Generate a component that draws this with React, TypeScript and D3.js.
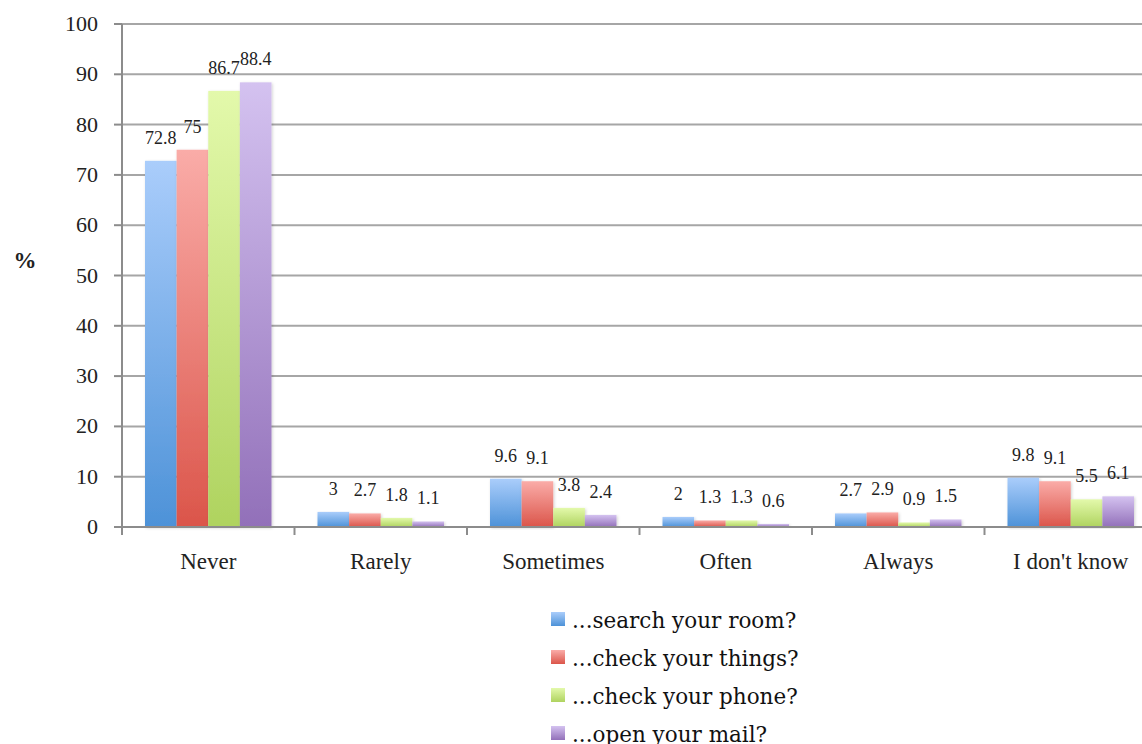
import { useEffect, useRef } from 'react';
import * as d3 from 'd3';

const categories = ['Never', 'Rarely', 'Sometimes', 'Often', 'Always', "I don't know"];
const seriesNames = ['...search your room?', '...check your things?', '...check your phone?', '...open your mail?'];
const searchRoom = [72.8, 3, 9.6, 2, 2.7, 9.8];
const checkThings = [75, 2.7, 9.1, 1.3, 2.9, 9.1];
const checkPhone = [86.7, 1.8, 3.8, 1.3, 0.9, 5.5];
const openMail = [88.4, 1.1, 2.4, 0.6, 1.5, 6.1];
const yTicks = [0, 10, 20, 30, 40, 50, 60, 70, 80, 90, 100];

const seriesValues = [searchRoom, checkThings, checkPhone, openMail];
const gradTop = ['#aacdfb', '#faaca8', '#e3f9ab', '#d4c2f0'];
const gradBottom = ['#4d92d8', '#db554a', '#afd35f', '#9270b9'];
const serif = 'Liberation Serif, Times New Roman, Tinos, serif';

export default function App() {
  const ref = useRef<SVGSVGElement>(null);

  useEffect(() => {
    const svg = d3.select(ref.current);
    svg.selectAll('*').remove();

    const W = 1142;
    const left = 122, top = 24, bottom = 527;
    const band = 172.5;
    const right = left + band * categories.length;

    const x0 = d3.scaleBand().domain(categories).range([left, right]).paddingInner(0).paddingOuter(0);
    const x1 = d3.scaleBand().domain(seriesNames).range([23, band - 23]).padding(0);
    const y = d3.scaleLinear().domain([0, 100]).range([bottom, top]);

    const defs = svg.append('defs');
    seriesNames.forEach((_, i) => {
      const lg = defs.append('linearGradient').attr('id', `g${i}`).attr('x1', 0).attr('y1', 0).attr('x2', 0).attr('y2', 1);
      lg.append('stop').attr('offset', '0%').attr('stop-color', gradTop[i]);
      lg.append('stop').attr('offset', '100%').attr('stop-color', gradBottom[i]);
    });
    const f = defs.append('filter').attr('id', 'sh').attr('x', '-20%').attr('y', '-5%').attr('width', '140%').attr('height', '110%');
    f.append('feDropShadow').attr('dx', 1).attr('dy', 1).attr('stdDeviation', 1.5).attr('flood-color', '#000').attr('flood-opacity', 0.18);

    // gridlines
    svg.append('g').selectAll('line').data(yTicks.filter(t => t > 0)).enter().append('line')
      .attr('x1', left).attr('x2', W).attr('y1', d => y(d)).attr('y2', d => y(d))
      .attr('stroke', '#a6a6a6').attr('stroke-width', 2);

    // bars + value labels
    const groups = svg.append('g').selectAll('g').data(categories).enter().append('g')
      .attr('transform', d => `translate(${x0(d)},0)`);
    seriesNames.forEach((s, si) => {
      groups.append('rect')
        .attr('x', x1(s)!).attr('width', x1.bandwidth())
        .attr('y', (_, ci) => y(seriesValues[si][ci]))
        .attr('height', (_, ci) => bottom - y(seriesValues[si][ci]))
        .attr('fill', `url(#g${si})`).attr('filter', 'url(#sh)');
      groups.append('text')
        .attr('x', x1(s)! + x1.bandwidth() / 2)
        .attr('y', (_, ci) => y(seriesValues[si][ci]) - 17)
        .attr('text-anchor', 'middle')
        .style('font-family', serif).attr('font-size', 18).attr('fill', '#222')
        .text((_, ci) => String(seriesValues[si][ci]));
    });

    // y axis
    svg.append('line').attr('x1', left).attr('x2', left).attr('y1', top).attr('y2', bottom)
      .attr('stroke', '#8c8c8c').attr('stroke-width', 2);
    const ya = svg.append('g');
    ya.selectAll('line').data(yTicks).enter().append('line')
      .attr('x1', left - 8).attr('x2', left).attr('y1', d => y(d)).attr('y2', d => y(d))
      .attr('stroke', '#8c8c8c').attr('stroke-width', 2);
    ya.selectAll('text').data(yTicks).enter().append('text')
      .attr('x', 98).attr('y', d => y(d) + 7).attr('text-anchor', 'end')
      .style('font-family', serif).attr('font-size', 22).attr('fill', '#222')
      .text(d => String(d));

    // x axis
    svg.append('line').attr('x1', left).attr('x2', W).attr('y1', bottom).attr('y2', bottom)
      .attr('stroke', '#8c8c8c').attr('stroke-width', 2);
    const xa = svg.append('g');
    xa.selectAll('line').data(d3.range(categories.length + 1)).enter().append('line')
      .attr('x1', i => left + i * band).attr('x2', i => left + i * band)
      .attr('y1', bottom).attr('y2', bottom + 8)
      .attr('stroke', '#8c8c8c').attr('stroke-width', 2);
    xa.selectAll('text').data(categories).enter().append('text')
      .attr('x', d => x0(d)! + band / 2).attr('y', 569).attr('text-anchor', 'middle')
      .style('font-family', serif).attr('font-size', 23).attr('fill', '#222')
      .text(d => d);

    svg.append('text').attr('x', 25).attr('y', 268).attr('text-anchor', 'middle')
      .style('font-family', serif).attr('font-size', 23).attr('font-weight', 'bold')
      .attr('fill', '#222').text('%');

    // legend
    const lg = svg.append('g').selectAll('g').data(seriesNames).enter().append('g')
      .attr('transform', (_, i) => `translate(551,${612 + i * 38})`);
    lg.append('rect').attr('width', 14).attr('height', 14).attr('fill', (_, i) => `url(#g${i})`);
    lg.append('text').attr('x', 21).attr('y', 16)
      .style('font-family', 'DejaVu Serif, serif').attr('font-size', 21.5).attr('fill', '#111')
      .text(d => d);
  }, []);

  return (
    <svg ref={ref} width={1142} height={744} style={{ position: 'absolute', left: 0, top: 0, background: '#fff' }} />
  );
}
